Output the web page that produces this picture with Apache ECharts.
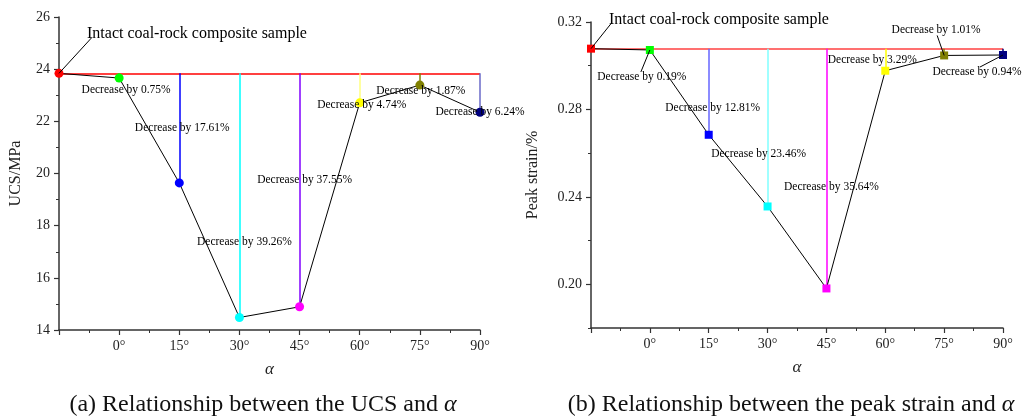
<!DOCTYPE html>
<html>
<head>
<meta charset="utf-8">
<script src="https://cdn.jsdelivr.net/npm/echarts@6/dist/echarts.min.js"></script>
<style>
  html, body { margin: 0; padding: 0; background: #fff; }
  #chart { width: 1030px; height: 419px; }
</style>
</head>
<body>
<div id="chart"></div>
<script>
// angle alpha of each sample; the intact sample sits at the left end of the axis
const alphas = [0, 15, 30, 45, 60, 75, 90]
const intactX = -15

// (a) UCS, MPa
const ucsIntact = 23.84
const ucs = [23.66, 19.64, 14.48, 14.89, 22.71, 23.39, 22.35]
const ucsDrop = ['0.75', '17.61', '39.26', '37.55', '4.74', '1.87', '6.24']

// (b) peak strain, %
const strainIntact = 0.3078
const strain = [0.3072, 0.2684, 0.2356, 0.1981, 0.2977, 0.3047, 0.3049]
const strainDrop = ['0.19', '12.81', '23.46', '35.64', '3.29', '1.01', '0.94']

const strainTicks = [0.20, 0.24, 0.28, 0.32]
const strainMinor = [0.18, 0.22, 0.26, 0.30]

// point colours (intact first)
const pointColors = ['#ff0000', '#00ff00', '#0000ff', '#00ffff', '#ff00ff', '#ffff00', '#808000', '#000080']
const dropColorsA = ['#00ff00', '#0000ff', '#00ffff', '#8000ff', '#ffff80', '#808000', '#6a6ac8']
const dropColorsB = ['#00ff00', '#6666ff', '#80ffff', '#ff00ff', '#ffff00', '#808000', '#000080']

// label offsets from each point (px), intact first
const offA = [[138, -40], [7, 12], [3, -55], [5, -75], [5, -127], [2, 2], [1, 6], [0, 0]]
const offB = [[128, -29], [-8, 27], [4, -27], [-9, -52], [5, -101], [-13, -11], [-8, -25], [-26, 17]]
// where a guide line meets its label, relative to the label centre (null = no guide line)
const leadA = [[-105, 4], null, null, null, null, null, null, null]
const leadB = [[-108, 4], [-1, -5], null, null, null, null, [1, 5], [3, -5]]

const FONT = 'Liberation Serif'
const chart = echarts.init(document.getElementById('chart'))

function xAxisOf(grid) {
  return {
    type: 'value', gridIndex: grid, min: -15, max: 90, interval: 15,
    name: 'α', nameLocation: 'middle', nameGap: 31,
    nameTextStyle: { fontFamily: FONT, fontStyle: 'italic', fontSize: 17, color: '#222' },
    axisLine: { onZero: false, lineStyle: { color: '#333', width: 1.5 } },
    axisTick: { length: 5, lineStyle: { color: '#333', width: 1.2 } },
    minorTick: { show: true, splitNumber: 2, length: 3, lineStyle: { color: '#333' } },
    splitLine: { show: false },
    axisLabel: {
      fontFamily: FONT, fontSize: 14, color: '#222', margin: 9,
      formatter: v => (v === intactX ? '' : v + '°')
    }
  }
}

function pointsOf(intact, vals) {
  return [[intactX, intact]].concat(alphas.map((a, i) => [a, vals[i]]))
}

function buildSeries(grid, intact, vals, drops, dropColors, offs, symbol, size) {
  const pts = pointsOf(intact, vals)
  const texts = ['Intact coal-rock composite sample'].concat(drops.map(d => 'Decrease by ' + d + '%'))
  const marks = [[{ coord: [intactX, intact], lineStyle: { color: grid ? '#ff4040' : '#ff0000', width: 1.5, type: 'solid' } }, { coord: [90, intact] }]]
  alphas.forEach((a, i) => {
    marks.push([{ coord: [a, intact], lineStyle: { color: dropColors[i], width: 1.5, type: 'solid' } }, { coord: [a, vals[i]] }])
  })
  return [
    {
      type: 'line', xAxisIndex: grid, yAxisIndex: grid === 0 ? 0 : 1,
      data: pts, symbol: 'none', silent: true, z: 3,
      lineStyle: { color: '#000', width: 1 },
      markLine: { silent: true, symbol: 'none', label: { show: false }, lineStyle: { type: 'solid' }, data: marks, z: 1 }
    },
    {
      type: 'scatter', xAxisIndex: grid, yAxisIndex: grid === 0 ? 0 : 1,
      symbol: symbol, symbolSize: size, z: 5, silent: true,
      data: pts.map((p, i) => ({
        value: p,
        itemStyle: { color: pointColors[i], opacity: 1 },
        label: {
          show: true, position: 'inside', formatter: texts[i],
          fontFamily: FONT, color: '#000',
          fontSize: i === 0 ? 16 : 11.5
        }
      })),
      labelLayout: params => ({ dx: offs[params.dataIndex][0], dy: offs[params.dataIndex][1] })
    }
  ]
}

chart.setOption({
  animation: false,
  grid: [
    { left: 59, top: 17, width: 421, height: 313 },
    { left: 591, top: 22, width: 412, height: 306 }
  ],
  xAxis: [xAxisOf(0), xAxisOf(1)],
  yAxis: [
    {
      type: 'value', gridIndex: 0, min: 14, max: 26, interval: 2, position: 'left',
      name: 'UCS/MPa', nameLocation: 'middle', nameGap: 35,
      nameTextStyle: { fontFamily: FONT, fontSize: 16, color: '#222' },
      axisLine: { show: true, onZero: false, lineStyle: { color: '#333', width: 1.5 } },
      axisTick: { show: true, length: 5, lineStyle: { color: '#333', width: 1.2 } },
      minorTick: { show: true, splitNumber: 2, length: 3, lineStyle: { color: '#333' } },
      splitLine: { show: false },
      axisLabel: { fontFamily: FONT, fontSize: 14, color: '#222', margin: 9 }
    },
    {
      type: 'value', gridIndex: 1, min: 0.18, max: 0.32, position: 'left',
      name: 'Peak strain/%', nameLocation: 'middle', nameGap: 50,
      nameTextStyle: { fontFamily: FONT, fontSize: 16, color: '#222' },
      axisLine: { show: true, onZero: false, lineStyle: { color: '#333', width: 1.5 } },
      axisTick: { show: true, length: 5, customValues: strainTicks, lineStyle: { color: '#333', width: 1.2 } },
      splitLine: { show: false },
      axisLabel: {
        fontFamily: FONT, fontSize: 14, color: '#222', margin: 9,
        customValues: strainTicks, formatter: v => v.toFixed(2)
      }
    },
    {
      type: 'value', gridIndex: 1, min: 0.18, max: 0.32, position: 'left', offset: 0,
      axisLine: { show: false, onZero: false },
      axisTick: { show: true, length: 3, customValues: strainMinor, lineStyle: { color: '#333' } },
      axisLabel: { show: false },
      splitLine: { show: false }
    }
  ],
  series: buildSeries(0, ucsIntact, ucs, ucsDrop, dropColorsA, offA, 'circle', 9)
    .concat(buildSeries(1, strainIntact, strain, strainDrop, dropColorsB, offB, 'rect', 8)),
  graphic: [
    {
      type: 'text', x: 263, y: 405, silent: true,
      style: {
        text: '(a) Relationship between the UCS and {i|α}', align: 'center', verticalAlign: 'middle',
        fontFamily: FONT, fontSize: 24, fill: '#111',
        rich: { i: { fontFamily: FONT, fontSize: 24, fontStyle: 'italic', fill: '#111' } }
      }
    },
    {
      type: 'text', x: 791, y: 405, silent: true,
      style: {
        text: '(b) Relationship between the peak strain and {i|α}', align: 'center', verticalAlign: 'middle',
        fontFamily: FONT, fontSize: 24, fill: '#111',
        rich: { i: { fontFamily: FONT, fontSize: 24, fontStyle: 'italic', fill: '#111' } }
      }
    }
  ]
})

// guide lines from a point to its label, placed with the chart's own scales
const leaders = []
function addLeaders(grid, pts, offs, leads) {
  pts.forEach((p, i) => {
    if (!leads[i]) return
    const [px, py] = chart.convertToPixel({ gridIndex: grid }, p)
    leaders.push({
      type: 'line', silent: true, z: 10,
      shape: { x1: px, y1: py, x2: px + offs[i][0] + leads[i][0], y2: py + offs[i][1] + leads[i][1] },
      style: { stroke: '#000', lineWidth: 1 }
    })
  })
}
addLeaders(0, pointsOf(ucsIntact, ucs), offA, leadA)
addLeaders(1, pointsOf(strainIntact, strain), offB, leadB)
chart.setOption({ graphic: chart.getOption().graphic[0].elements.map(() => ({})).concat(leaders) })
</script>
</body>
</html>
